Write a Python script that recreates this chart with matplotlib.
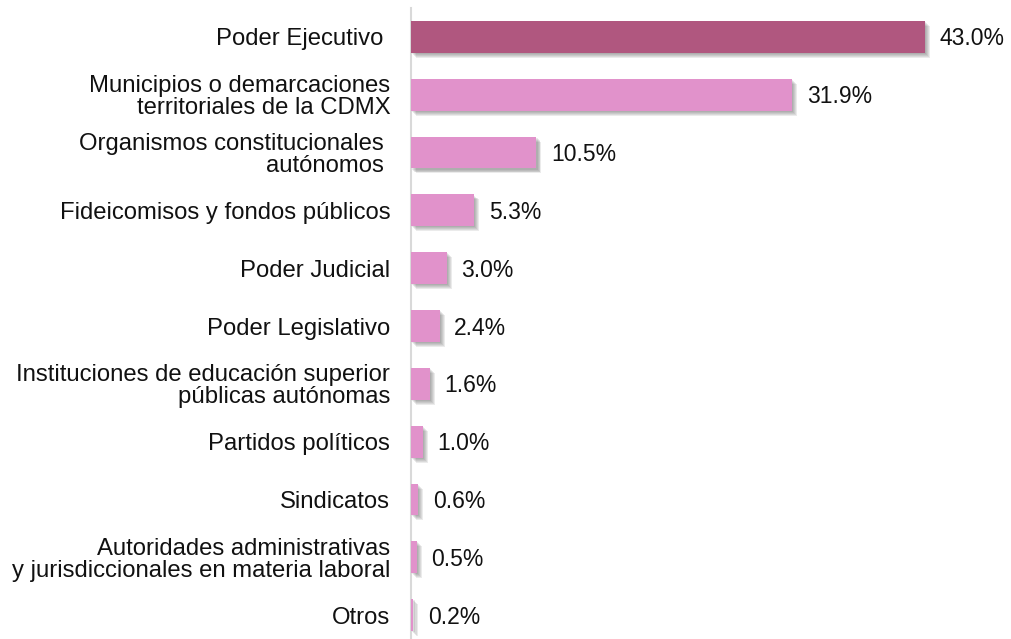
import matplotlib.pyplot as plt
import matplotlib.patheffects as pe

plt.rcParams['font.family'] = ['Liberation Sans', 'DejaVu Sans']

categories = [
    "Poder Ejecutivo ",
    "Municipios o demarcaciones\nterritoriales de la CDMX",
    "Organismos constitucionales \nautónomos ",
    "Fideicomisos y fondos públicos",
    "Poder Judicial",
    "Poder Legislativo",
    "Instituciones de educación superior\npúblicas autónomas",
    "Partidos políticos",
    "Sindicatos",
    "Autoridades administrativas\ny jurisdiccionales en materia laboral",
    "Otros",
]
values = [43.0, 31.9, 10.5, 5.3, 3.0, 2.4, 1.6, 1.0, 0.6, 0.5, 0.2]
colors = ["#B0577F"] + ["#E192CB"] * (len(values) - 1)

fig = plt.figure(figsize=(10.11, 6.39), dpi=100)
ax = fig.add_axes([411 / 1011, -5 / 639, 589 / 1011, 636 / 639])

y = list(range(len(values)))
bars = ax.barh(y, values, height=0.55, color=colors, zorder=3)

# soft drop shadow under each bar
shadow = [pe.SimplePatchShadow(offset=(o, -o), shadow_rgbFace="#444444", alpha=0.1)
          for o in (0.8, 1.5, 2.2, 2.9, 3.6)]
for b in bars:
    b.set_path_effects(shadow + [pe.Normal()])

for yi, v in zip(y, values):
    ax.annotate(f"{v:.1f}%", (v, yi), xytext=(10.5, -1.5), textcoords="offset points",
                va="center", ha="left", fontsize=16.5, color="#111111")

ax.set_xlim(0, 49.3)
ax.set_ylim(10.5, -0.5)
ax.set_yticks(y)
ax.set_yticklabels(categories, fontsize=17.2, color="#111111", linespacing=1.0)
ax.tick_params(axis="y", length=0, pad=15)
ax.set_xticks([])
for s in ("top", "right", "bottom"):
    ax.spines[s].set_visible(False)
ax.spines["left"].set_color("#D9D9D9")
ax.spines["left"].set_linewidth(1.5)

fig.savefig("out.png", dpi=100)
